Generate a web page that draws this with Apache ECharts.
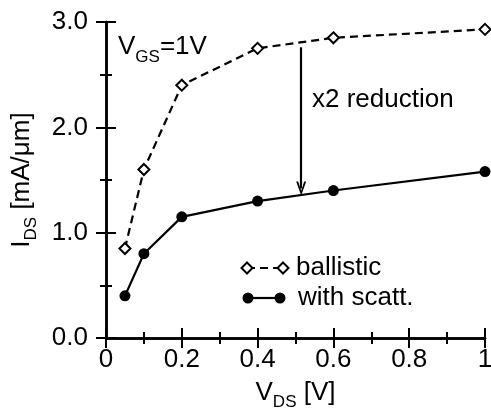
<!DOCTYPE html>
<html>
<head>
<meta charset="utf-8">
<script src="https://cdn.jsdelivr.net/npm/echarts@6/dist/echarts.min.js"></script>
<style>
  html, body { margin: 0; background: #fff; }
  #chart { width: 491px; height: 411px; }
</style>
</head>
<body>
<div id="chart"></div>
<script>
// V_DS values (V)
const vds = [0.05, 0.1, 0.2, 0.4, 0.6, 1.0]
// I_DS (mA/um)
const ballistic = [0.85, 1.6, 2.4, 2.75, 2.85, 2.93]
const withScatt = [0.4, 0.8, 1.15, 1.3, 1.4, 1.58]
// "x2 reduction" arrow
const arrowX = 0.515
const arrowFrom = 2.76
const arrowTo = 1.42

const FONT = 'Liberation Sans'
const FS = 26
const chart = echarts.init(document.getElementById('chart'))

const tickCommon = {
  axisLine: { lineStyle: { color: '#000', width: 2.5 } },
  axisTick: { inside: true, length: 10, lineStyle: { color: '#000', width: 2 } },
  minorTick: { show: true, splitNumber: 2, length: 6, lineStyle: { color: '#000', width: 2 } },
  splitLine: { show: false },
  minorSplitLine: { show: false }
}

const subRich = {
  a: { fontSize: FS, fontFamily: FONT, color: '#000' },
  s: { fontSize: 17, fontFamily: FONT, color: '#000', padding: [20, 0, 0, 0] }
}

const xLabel = (v) => (v === 0 ? '0' : v === 1 ? '1' : v.toFixed(1))

const option = {
  animation: false,
  backgroundColor: '#fff',
  textStyle: { fontFamily: FONT },
  grid: { left: 106, right: 6, top: 22, bottom: 73, containLabel: false, outerBoundsMode: 'none' },
  xAxis: [
    {
      type: 'value', min: 0, max: 1, interval: 0.2,
      ...tickCommon,
      axisLabel: { color: '#000', fontSize: FS, fontFamily: FONT, margin: 9, formatter: xLabel },
      name: '{a|V}{s|DS}{a| [V]}',
      nameLocation: 'middle',
      nameGap: 36,
      nameTextStyle: { rich: subRich }
    },
    {
      type: 'value', min: 0, max: 1, interval: 0.2, position: 'top',
      ...tickCommon,
      axisLabel: { show: false }
    }
  ],
  yAxis: [
    {
      type: 'value', min: 0, max: 3, interval: 1,
      ...tickCommon,
      axisLabel: { color: '#000', fontSize: FS, fontFamily: FONT, margin: 18, formatter: (v) => v.toFixed(1) },
      name: '{a|I}{s|DS}{a| [mA/μm]}',
      nameLocation: 'middle',
      nameRotate: 90,
      nameGap: 66,
      nameTextStyle: { rich: subRich }
    },
    {
      type: 'value', min: 0, max: 3, interval: 1, position: 'right',
      ...tickCommon,
      axisLabel: { show: false }
    }
  ],
  series: [
    {
      name: 'ballistic',
      type: 'line',
      data: vds.map((x, i) => [x, ballistic[i]]),
      symbol: 'diamond',
      symbolSize: 11,
      showAllSymbol: true,
      lineStyle: { color: '#000', width: 2.2, type: [8, 5] },
      itemStyle: { color: '#fff', borderColor: '#000', borderWidth: 2 },
      z: 3
    },
    {
      name: 'with scatt.',
      type: 'line',
      data: vds.map((x, i) => [x, withScatt[i]]),
      symbol: 'circle',
      symbolSize: 11,
      lineStyle: { color: '#000', width: 2.2 },
      itemStyle: { color: '#000' },
      markLine: {
        silent: true,
        symbol: ['none', 'path://M5,0L10,12L8,12L5,4L2,12L0,12Z'],
        symbolSize: [10, 14],
        label: { show: false },
        lineStyle: { color: '#000', width: 2.2, type: 'solid' },
        data: [[{ coord: [arrowX, arrowFrom] }, { coord: [arrowX, arrowTo] }]]
      }
    }
  ],
  graphic: [
    {
      type: 'text', left: 118, top: 34,
      style: {
        text: '{v|V}{s|GS}{v|=1V}',
        rich: {
          v: { fontSize: FS, fontFamily: FONT, fill: '#000' },
          s: { fontSize: 17, fontFamily: FONT, fill: '#000', padding: [20, 0, 0, 0] }
        }
      }
    },
    {
      type: 'text', left: 312, top: 87,
      style: { text: 'x2 reduction', fontSize: FS, fontFamily: FONT, fill: '#000' }
    },
    // legend: ballistic
    {
      type: 'line', shape: { x1: 247, y1: 268, x2: 283, y2: 268 },
      style: { stroke: '#000', lineWidth: 2.2, lineDash: [8, 5] }
    },
    {
      type: 'polygon', shape: { points: [[247, 262.5], [252.5, 268], [247, 273.5], [241.5, 268]] },
      style: { fill: '#fff', stroke: '#000', lineWidth: 2 }
    },
    {
      type: 'polygon', shape: { points: [[283, 262.5], [288.5, 268], [283, 273.5], [277.5, 268]] },
      style: { fill: '#fff', stroke: '#000', lineWidth: 2 }
    },
    {
      type: 'text', left: 296, top: 255,
      style: { text: 'ballistic', fontSize: FS, fontFamily: FONT, fill: '#000' }
    },
    // legend: with scatt.
    {
      type: 'line', shape: { x1: 248, y1: 298, x2: 280, y2: 298 },
      style: { stroke: '#000', lineWidth: 2.2 }
    },
    { type: 'circle', shape: { cx: 248, cy: 298, r: 5.5 }, style: { fill: '#000' } },
    { type: 'circle', shape: { cx: 280, cy: 298, r: 5.5 }, style: { fill: '#000' } },
    {
      type: 'text', left: 298, top: 285,
      style: { text: 'with scatt.', fontSize: FS, fontFamily: FONT, fill: '#000' }
    }
  ]
}

chart.setOption(option)
</script>
</body>
</html>
